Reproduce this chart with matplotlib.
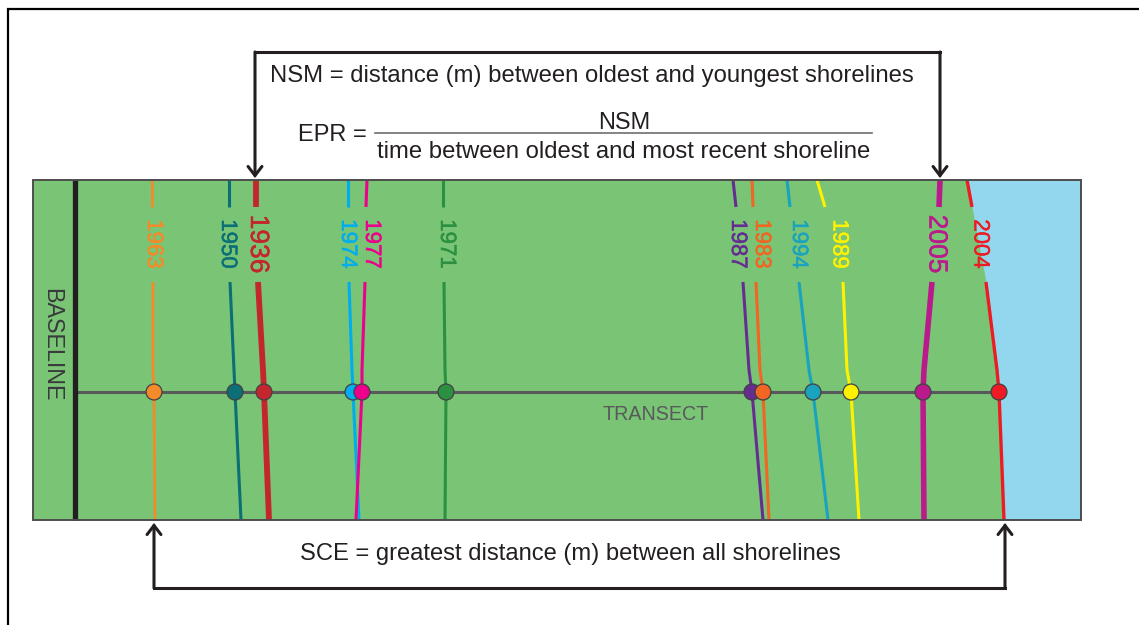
import matplotlib
matplotlib.use("Agg")
import matplotlib.pyplot as plt
import matplotlib.patheffects as pe
from matplotlib.patches import Rectangle

plt.rcParams['font.family'] = ['Liberation Sans', 'DejaVu Sans']

# ---------------- data (pixel units) ----------------
years = ['1963', '1950', '1936', '1974', '1977', '1971',
         '1987', '1983', '1994', '1989', '2005', '2004']
# depth levels at which shoreline positions were read (top, label gap start, label gap end, ..., transect, bottom)
profile_y = [180, 207, 282, 370, 392, 520]
x_1963 = [152, 152, 153, 153, 154, 155]
x_1950 = [229, 229, 230, 234, 235, 241]
x_1936 = [256, 256, 258, 263, 264, 269]
x_1974 = [348, 348, 349, 352, 353, 359]
x_1977 = [367, 366, 365, 362, 362, 356]
x_1971 = [443, 443, 444, 445, 446, 445]
x_1987 = [733, 736, 743, 749, 752, 763]
x_1983 = [752, 753, 756, 760, 763, 769]
x_1994 = [787, 790, 799, 809, 813, 828]
x_1989 = [817, 825, 843, 847, 851, 859]
x_2005 = [940, 939, 932, 924, 923, 924]
x_2004 = [967, 972, 986, 997, 999, 1004]
shorelines = [x_1963, x_1950, x_1936, x_1974, x_1977, x_1971,
              x_1987, x_1983, x_1994, x_1989, x_2005, x_2004]

# ---------------- styles ----------------
colors = ['#F38B2A', '#0B6F75', '#C4262E', '#00AEEF', '#EC008C', '#2B9040',
          '#662D91', '#F26522', '#1AA3BF', '#FFF200', '#BA1A8C', '#ED1C24']
line_w = [2.0, 2.2, 4.2, 2.2, 2.2, 2.2, 2.2, 2.2, 2.2, 2.2, 4.0, 2.4]
label_size = [16, 16, 19, 16, 16, 16, 16, 16, 16, 16, 19, 16]
label_dx = [1, -2, 1, -1, 6, 3, -2, 7, 4, 5, 1, 1]

GREEN = '#79C475'
WATER = '#93D7EE'
INK = '#231F20'
GREY = '#58595B'

fig = plt.figure(figsize=(11.39, 6.25), dpi=100)
ax = fig.add_axes([0, 0, 1, 1])
ax.set_xlim(0, 1139)
ax.set_ylim(625, 0)
ax.axis('off')
renderer = fig.canvas.get_renderer()


def fit(t, target, vertical=False):
    bb = t.get_window_extent(renderer)
    cur = bb.height if vertical else bb.width
    t.set_fontsize(t.get_fontsize() * target / cur)
    return t


# outer frame (top and left only)
ax.plot([8, 8, 1139], [625, 9, 9], color='black', lw=1.6, solid_joinstyle='miter', zorder=1)

# land and water
top, bot = profile_y[0], profile_y[-1]
ax.add_patch(Rectangle((33, top), 1048, bot - top, facecolor=GREEN, edgecolor='none', zorder=1))
ax.fill_betweenx(profile_y, x_2004, 1081, color=WATER, lw=0, zorder=1.5)
ax.add_patch(Rectangle((33, top), 1048, bot - top, facecolor='none', edgecolor='#4D4D4D', lw=1.4, zorder=7))

# baseline
ax.plot([75, 75], [top, bot], color=INK, lw=3.8, solid_capstyle='butt', zorder=4)
t = ax.text(52, 345, 'BASELINE', rotation=-90, ha='center', va='center', color='#3A3A3C', fontsize=16, zorder=8)
fit(t, 114, vertical=True)

# shorelines with labels
for yr, xs, c, lw, fs, dx in zip(years, shorelines, colors, line_w, label_size, label_dx):
    ax.plot(xs[:2], profile_y[:2], color=c, lw=lw, solid_capstyle='butt', zorder=2)
    ax.plot(xs[2:], profile_y[2:], color=c, lw=lw, solid_capstyle='butt', zorder=2)
    lx = (xs[1] + xs[2]) / 2 + dx
    ax.text(lx, 244, yr, rotation=-90, ha='center', va='center', color=c, fontsize=fs, zorder=3,
            path_effects=[pe.withStroke(linewidth=0.35, foreground=c)])

# transect
dot_x = [xs[4] for xs in shorelines]
ty = profile_y[4]
ax.plot([78, max(dot_x)], [ty, ty], color=GREY, lw=2.2, zorder=3)
order = sorted(range(len(dot_x)), key=lambda i: dot_x[i])
ax.scatter([dot_x[i] for i in order], [ty] * len(order), s=132,
           c=[colors[i] for i in order], edgecolors='#414042', linewidths=0.9, zorder=6)
t = ax.text(656, 420, 'TRANSECT', ha='center', va='baseline', color=GREY, fontsize=14, zorder=8)
fit(t, 106)

# NSM / EPR bracket (oldest 1936 -> youngest 2005, at top)
arrow = dict(arrowstyle='->, head_length=0.65, head_width=0.5', lw=2.2, color=INK,
             shrinkA=0, shrinkB=0, joinstyle='miter')
xl, xr = x_1936[0] - 1, x_2005[0]
ax.plot([xl, xr], [52, 52], color=INK, lw=2.2, solid_capstyle='projecting', zorder=5)
for xx in (xl, xr):
    ax.annotate('', xy=(xx, top - 2), xytext=(xx, 52), arrowprops=arrow, zorder=5)

# SCE bracket (extreme shorelines at bottom)
bottoms = [xs[-1] for xs in shorelines]
bl, br = min(bottoms) - 1, max(bottoms) + 1
ax.plot([bl, br], [588, 588], color=INK, lw=2.2, solid_capstyle='projecting', zorder=5)
for xx in (bl, br):
    ax.annotate('', xy=(xx, bot + 3), xytext=(xx, 588), arrowprops=arrow, zorder=5)

# texts
t = ax.text(270, 82, 'NSM = distance (m) between oldest and youngest shorelines',
            ha='left', va='baseline', color=INK, fontsize=17)
fit(t, 645)
t = ax.text(298, 141, 'EPR =', ha='left', va='baseline', color=INK, fontsize=17)
fit(t, 69)
ax.plot([375, 872], [133, 133], color='#6D6E71', lw=1.2)
t = ax.text(624, 129, 'NSM', ha='center', va='baseline', color=INK, fontsize=17)
fit(t, 52)
t = ax.text(377, 158, 'time between oldest and most recent shoreline',
            ha='left', va='baseline', color=INK, fontsize=17)
fit(t, 495)
t = ax.text(300, 560, 'SCE = greatest distance (m) between all shorelines',
            ha='left', va='baseline', color=INK, fontsize=17)
fit(t, 542)

fig.savefig('out.png', dpi=100, facecolor='white')
